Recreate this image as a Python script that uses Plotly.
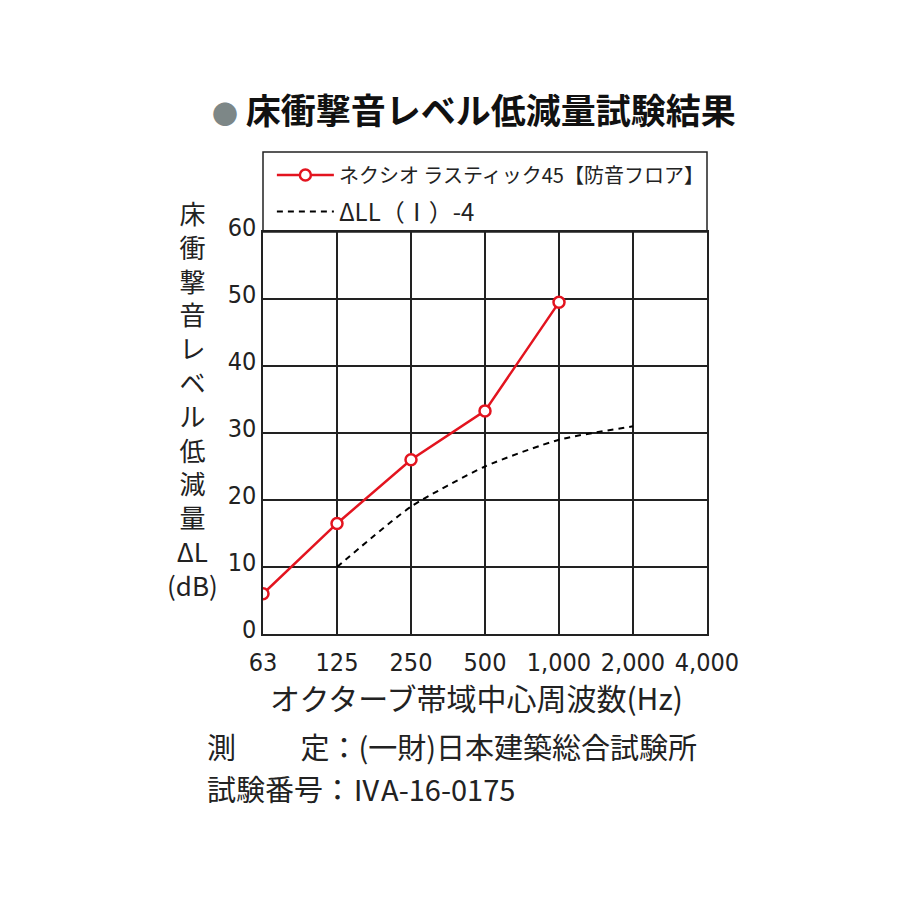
import plotly.graph_objects as go

# octave band centre frequencies (Hz)
freq_labels = ["63", "125", "250", "500", "1,000", "2,000", "4,000"]

# measured reduction, ネクシオ ラスティック45
product_freq = ["63", "125", "250", "500", "1,000"]
product_dl = [6, 16.5, 26, 33.3, 49.5]

# ΔLL(I)-4 reference curve
ref_freq = ["125", "250", "500", "1,000", "2,000"]
ref_dl = [10, 19, 25, 29, 31]

red = "#e3141f"
font_jp = "Noto Sans CJK JP"
font_num = "DejaVu Sans Condensed"

fig = go.Figure()
fig.add_trace(go.Scatter(
    x=product_freq, y=product_dl, mode="lines+markers",
    name="ネクシオ ラスティック45【防音フロア】",
    line=dict(color=red, width=2.5),
    marker=dict(symbol="circle", size=11, color="white", line=dict(color=red, width=2.5)),
    legend="legend",
))
fig.add_trace(go.Scatter(
    x=ref_freq, y=ref_dl, mode="lines",
    name="ΔLL（Ⅰ）-4",
    line=dict(color="black", width=2, dash="6px,5px", shape="spline", smoothing=0.6),
    legend="legend2",
))

fig.update_xaxes(
    type="category", categoryorder="array", categoryarray=freq_labels,
    range=[0, 6], showgrid=True, gridcolor="#222", gridwidth=1.5,
    showline=True, linecolor="#222", linewidth=1.5, mirror=True,
    ticks="", ticklabelstandoff=5, tickfont=dict(family=font_num, size=25, color="#222"),
)
fig.update_yaxes(
    range=[0, 60], dtick=10, showgrid=True, gridcolor="#222", gridwidth=1.5,
    showline=True, linecolor="#222", linewidth=1.5, mirror=True, zeroline=False,
    ticks="", ticklabelshift=-5, tickfont=dict(family=font_num, size=25, color="#222"),
)

# legend box above the 60 line
fig.add_shape(type="rect", xref="paper", yref="paper", x0=0, x1=1, y0=1, y1=1.199,
              line=dict(color="#222", width=1.5), fillcolor="rgba(0,0,0,0)")

ylabel = "<br>".join(list("床衝撃音レベル低減量") + ["ΔL", "(dB)"])
fig.add_annotation(text=ylabel, xref="paper", yref="paper", x=-0.158, y=0.587,
                   xanchor="center", yanchor="middle", showarrow=False,
                   font=dict(family=font_jp, size=26, color="#222"))

fig.add_annotation(
    text="<span style='color:#7d8787;font-size:26px'>●</span> <b>床衝撃音レベル低減量試験結果</b>",
    xref="paper", yref="paper", x=0.475, y=1.0, yshift=232 - 108, xanchor="center", yanchor="middle",
    showarrow=False, font=dict(family=font_jp, size=35, color="#111"),
)

fig.add_annotation(text="オクターブ帯域中心周波数(Hz)", xref="paper", yref="paper",
                   x=0.48, y=0, yshift=-(697 - 634), xanchor="center", yanchor="middle",
                   showarrow=False, font=dict(family=font_jp, size=30, color="#222"))

fig.add_annotation(text="測　　 定：(一財)日本建築総合試験所", xref="paper", yref="paper",
                   x=(205 - 263) / 444, y=0, yshift=-(746 - 634), xanchor="left", yanchor="middle",
                   showarrow=False, font=dict(family=font_jp, size=29, color="#222"))
fig.add_annotation(text="試験番号：ⅣA-16-0175", xref="paper", yref="paper",
                   x=(205 - 263) / 444, y=0, yshift=-(788 - 634), xanchor="left", yanchor="middle",
                   showarrow=False, font=dict(family=font_jp, size=29, color="#222"))

fig.update_layout(
    width=900, height=900,
    margin=dict(l=255, r=201, t=224, b=274),
    paper_bgcolor="white", plot_bgcolor="white",
    legend=dict(x=0.02, y=1 + 57 / 402, xanchor="left", yanchor="middle", bgcolor="rgba(0,0,0,0)",
                itemwidth=57, font=dict(family=font_jp, size=20, color="#222")),
    legend2=dict(x=0.02, y=1 + 20 / 402, xanchor="left", yanchor="middle", bgcolor="rgba(0,0,0,0)",
                 itemwidth=57, font=dict(family=font_jp, size=24, color="#222")),
    showlegend=True,
)

fig.write_html("out.html")
